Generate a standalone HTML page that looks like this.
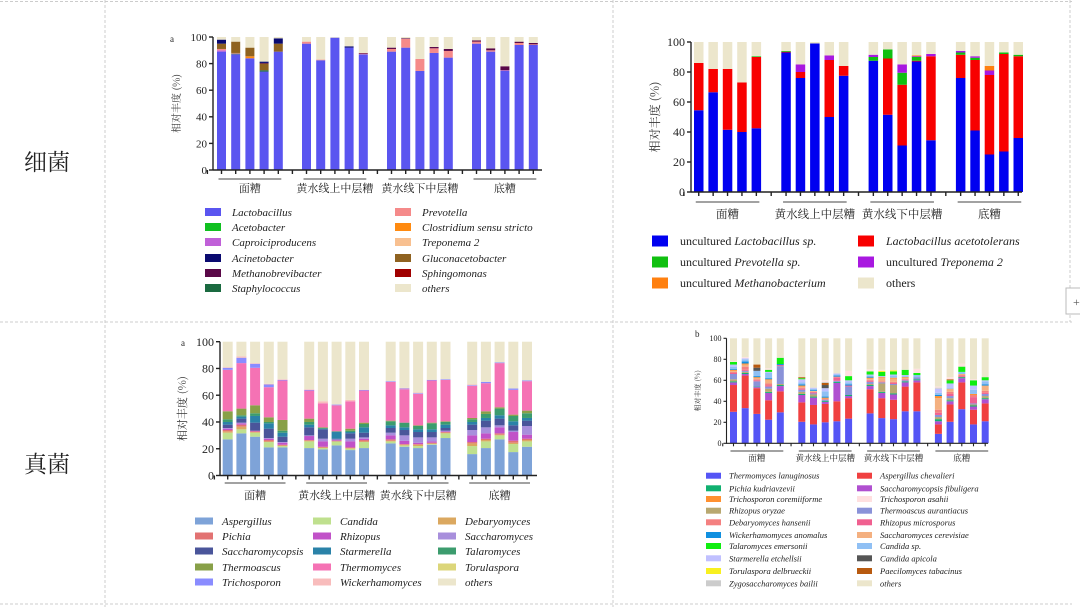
<!DOCTYPE html>
<html><head><meta charset="utf-8"><style>
html,body{margin:0;padding:0;background:#fff;}
svg{display:block;font-family:"Liberation Serif","Noto Serif CJK SC",serif;}
</style></head><body>
<svg id="fig" width="1080" height="607" viewBox="0 0 1080 607" xmlns="http://www.w3.org/2000/svg">
<g stroke="#ccc" stroke-dasharray="3,2" fill="none">
<line x1="0" y1="1.5" x2="1072" y2="1.5"/><line x1="105" y1="0" x2="105" y2="607"/><line x1="613" y1="0" x2="613" y2="607"/>
<line x1="0" y1="322" x2="1072" y2="322"/><line x1="0" y1="604" x2="1072" y2="604"/><line x1="1070" y1="0" x2="1070" y2="322"/>
</g>
<rect x="1066" y="288" width="16" height="26" fill="#fff" stroke="#bbb"/>
<text x="1073" y="306" font-size="12" fill="#555">+</text>
<text x="24" y="170" font-size="23" fill="#222" font-family="'Noto Serif CJK SC',serif">细菌</text>
<text x="24" y="472" font-size="23" fill="#222" font-family="'Noto Serif CJK SC',serif">真菌</text>
</svg>
<script>
const groups=['面糟','黄水线上中层糟','黄水线下中层糟','底糟'];
const yTicks=[0,20,40,60,80,100];

const bacA_series=['Lactobacillus','Staphylococcus','Caproiciproducens','Prevotella','Clostridium sensu stricto','Gluconacetobacter','Methanobrevibacter','Acinetobacter','Acetobacter','Treponema 2','Sphingomonas'];
const bacA_colors=['#5a55f0','#1a6a40','#c060d8','#f58a8a','#ff8a10','#8f6220','#5a0848','#0a0a70','#10c020','#f8c090','#a00000'];
const bacA_values=[
[89,0,1,1,0,4,0,3],[87,0.5,0,0.5,0,8.5,0,0],[84,0,0,0,1.5,6.5,0,0],[74,1,0,0,0,5,0.5,1],[89,0,0,0,0,6,0,4],
[95,0,0,1.5,0,0,0,0],[82.5,0,0,0.5,0,0,0,0],[99.5,0,0,0,0,0,0,0],[92,0,0,0,0,0,0,1],[87,0,0,0.5,0,0,0.5,0],
[89,0,0,2,0,0,1,0],[92,0,0,6.5,0,0,0.5,0],[74.5,0,0,9,0,0,0,0],[88,0,0,3.5,0,0,1,0],[84.5,0,0,5,0,0,1.5,0],
[95,0,0,1.5,0,0,1,0],[89,0,0,1,0,0,1.5,0],[74.5,0,0.5,0,0,0,3,0],[94,0,0,1.5,0,0,1,0],[94,0,0,0.5,0,0,1,0]];

const bacB_series=['uncultured Lactobacillus sp.','Lactobacillus acetotolerans','uncultured Prevotella sp.','uncultured Treponema 2','uncultured Methanobacterium'];
const bacB_colors=['#0000f0','#f80000','#10c010','#a818e0','#ff8010'];
const bacB_values=[
[54.5,31.5,0,0,0],[66.5,15.5,0,0,0],[41.5,40.5,0,0,0],[40,33,0,0,0],[42.5,47.5,0.5,0,0],
[93,0.5,0.5,0,0],[76,4,0,5,0],[99,0,0,0,0],[50,38,0,3,0],[77.5,6.5,0,0,0],
[87.5,0,2.5,1.5,0],[51.5,37.5,6,0,0],[31,40.5,8,5.5,0],[87,0.5,2.5,0.5,0.5],[34.5,56,0,1.5,0],
[76,15.5,1.5,1,0],[41,47,1.5,1,0],[25,53,0,3,3],[27,65,1,0,0],[36,54.5,1,0,0]];

const funC_series=['Aspergillus','Candida','Debaryomyces','Pichia','Rhizopus','Saccharomyces','Saccharomycopsis','Starmerella','Talaromyces','Thermoascus','Thermomyces','Torulaspora','Trichosporon','Wickerhamomyces'];
const funC_colors=['#7ea3d8','#bfe08e','#dba860','#e27272','#c152c8','#a88fdc','#4a559a','#2a82a8','#3c9c6e','#88a048','#f572b4','#dcd67a','#8a8cff','#f8bcbc'];
const funC_values=[
[27,5,1,1,1,0.5,2.5,2,2,6,31,0,1.5,0.5],[31.5,3,2,1.5,1,0.5,3,1.5,1,5,34,0,4,1],[29,3,0.5,0.5,0.5,0,6,5,2,6,28,0,3,0.5],[21,4,0.5,1,1,0.5,7,4,1,3.5,22.5,0,2,0.5],[21,1,0.5,0.5,1.5,0.5,4,3,1.5,8,29.5,0,0.5,0.5],
[20.5,5,0.5,0.5,3,0.5,6,2,2,2.5,21,0,0.5,0.5],[19.5,1,0.5,0.5,4,2,7,0.5,0.5,0.5,18,0,0,1.5],[22.5,3,0,0.5,0.5,0.5,0.5,5,0.5,0,19.5,0,0.5,0],[19,1,0.5,0.5,4.5,2,4,1,1,1.5,20.5,0,0,1],[20.5,4.5,0.5,1,1,1,3.5,4,2.5,1,24,0,0.5,0],
[24,1.5,0.5,1,3,2,3.5,2,3,0.5,29,0,0.5,0],[21.5,1,0.5,0.5,2.5,4,4,2,3.5,0,25,0,0.5,0.5],[20.5,1.5,1,0.5,1,4,4,2,2.5,0.5,23.5,0,0.5,0.5],[23,0.5,0.5,0.5,1,3,4,2,4.5,0.5,31.5,0,0.5,0],[28,3.5,0.5,0.5,0.5,0.5,2,2.5,2,0.5,31,0,0.5,0],
[16,6,2,1,5,4,4,2,2,1,24,0,0.5,0.5],[20.5,5,1,1,4,4.5,5,2,3,2,21,0,1,0],[27,3,0.5,1,4.5,1.5,5,2.5,5,1,33,0,0.5,0],[17.5,6,1,1.5,6.5,1,4,3,4,1,18.5,0,1,0],[21.5,4,1,1,3,6.5,4,2,3.5,2,22,0,0.5,0]];

const funD_series=['Thermomyces lanuginosus','Aspergillus chevalieri','Saccharomycopsis fibuligera','Pichia kudriavzevii','Rhizopus oryzae','Thermoascus aurantiacus','Rhizopus microsporus','Debaryomyces hansenii','Saccharomyces cerevisiae','Trichosporon coremiiforme','Wickerhamomyces anomalus','Candida sp.','Starmerella etchellsii','Talaromyces emersonii','Candida apicola','Paecilomyces tabacinus','Torulaspora delbrueckii','Zygosaccharomyces bailii','Trichosporon asahii'];
const funD_colors=['#5555f5','#f04040','#b050d0','#10b070','#b8a870','#8a92d8','#f06090','#f48080','#f4b080','#ff9030','#1090e0','#90c0f4','#c0c0ff','#10ee10','#555555','#b85a10','#f8f020','#cccccc','#ffe0e0'];
const funD_values=[
[30,25.5,2.5,1,2,5,1,1,1,1,1,2,2,2.5,0,0,0,0,0.5],[33.5,31,1.5,1,1,1,1,3,2,1,2,2,1,0,0,0,0,0,1],[28,24.5,1,0.5,0,5,1,1,1,1,1,5,0,0,3,3,0,0,0],[22.5,18.5,7,1,3,2,1,2,3,1,1,5,1,2,0,0,0,0,1.5],[29.5,20,5,1,1,17,1,0,0,0,1,0,0,6,0,0,0,0,0.5],
[20.5,18.5,7,1,2,2,1,1,1,1,1,2,3,1,0,1,0,0,0],[18,18.5,7,1,2,1,1,0.5,1,0,1,1,1,0,0,0,0,0,0],[20,17.5,2,1,0,1,0,1,0,1,1,5,3,0,3,2,0,1,1.5],[21,19,17.5,1,0,1,3,1,0,0,1,1,1,0,0,0,0,0,0],[23.5,19.5,2,1,0,8,1,0,0,0,1,2,2,4,0,0,0,0,5],
[28.5,23,3,1,1,2,1,1,1,1,1,1,1,3,0,0,0,0,2],[24,19,5,1,8,1,0,1,3,1,0,0,1,4,0,0,1,0,1],[23,18.5,5,1,8,1,1,1,3,1,0,2,1,3,0,0,1,0,0],[30.5,23.5,4,1,0,1,1,0,1,1,0,1,1,5,0,0,0,0,0],[30.5,27.5,2,1,0,2,0,0,0,0,0,2,0,2,0,0,0,0,4],
[9,9,3,2,2,2,2,3,11,2,1,2,4,0,0,0,0,1,1],[20.5,16.5,3,1,2,2,2,2,3,0,0,1,4,3,0,1,0,0,2],[32.5,25.5,4,1,0,0,1,1,1,0,0,2,0,5,0,0,0,0,3],[18,14,3,1,1,1,6,2,0,1,0,4,4,5,0,0,0,0,1],[21,17,4,1,2,2,1,2,5,0,1,3,1,3,0,0,0,0,0]];

const OTHERS='#ece6cc';
const NS='http://www.w3.org/2000/svg';
const fig=document.getElementById('fig');
function mk(tag,attrs,parent,txt){const e=document.createElementNS(NS,tag);for(const k in attrs)e.setAttribute(k,attrs[k]);if(txt!==undefined)e.textContent=txt;(parent||fig).appendChild(e);return e;}

function chart(id,o,colors,vals){
  const g=mk('g',{});
  
  
  const y=v=>o.y0-v*(o.y0-o.y100)/100;
  const bx=i=>o.bx+Math.floor(i/5)*o.go+(i%5)*o.st;
  vals.forEach((row,i)=>{
    let cum=0;
    const list=colors.map((c,k)=>[row[k]||0,c]);
    const sum=list.reduce((a,b)=>a+b[0],0);
    list.push([Math.max(0,100-sum),OTHERS]);
    list.forEach(([v,c])=>{
      if(v<=0)return;
      const r=mk('rect',{x:bx(i),y:y(cum+v),width:o.bw,height:y(cum)-y(cum+v),fill:c},g);
      
      
      cum+=v;
    });
  });
  const ax=mk('g',{stroke:'#222','stroke-width':o.sw||1.4},g);
  
  
  mk('line',{x1:o.ax,y1:o.y0+0.5,x2:o.ax,y2:o.y100},ax);
  mk('line',{x1:o.ax,y1:o.y0,x2:o.ae,y2:o.y0},ax);
  yTicks.forEach(t=>{
    mk('line',{x1:o.ax-o.tk,y1:y(t),x2:o.ax,y2:y(t)},ax);
    const tx=mk('text',{x:o.ax-o.tk-2,y:y(t)+o.fs*0.35,'font-size':o.fs,'text-anchor':'end',fill:'#222',stroke:'none'},g,String(t));
    
    
  });
  for(let i=0;i<20;i++){mk('line',{x1:bx(i)+o.bw/2,y1:o.y0,x2:bx(i)+o.bw/2,y2:o.y0+o.tk},ax);}
  for(let gI=0;gI<4;gI++){
    const gx=bx(gI*5)-(o.go-4*o.st-o.bw)/2;
    mk('line',{x1:gx,y1:o.y0,x2:gx,y2:o.y0+o.tk},ax);
    const x1=bx(gI*5)+o.bw/2,x2=bx(gI*5+4)+o.bw/2;
    mk('line',{x1:x1-3,y1:o.ul,x2:x2+3,y2:o.ul,'stroke-width':1,stroke:'#444'},ax);
    const t=mk('text',{x:(x1+x2)/2,y:o.ly,'font-size':o.gfs,'text-anchor':'middle',fill:'#222',stroke:'none','font-family':"'Noto Serif CJK SC',serif"},g,groups[gI]);
    
    
  }
  const yt=mk('text',{transform:`translate(${o.ytx},${(o.y0+o.y100)/2}) rotate(-90)`,'font-size':o.yfs,'text-anchor':'middle',fill:'#333','font-family':"'Noto Serif CJK SC',serif"},g,'相对丰度 (%)');
  
  
  if(o.letter){const l=mk('text',{x:o.letter[0],y:o.letter[1],'font-size':9,fill:'#222'},g,o.letter[2]);
    
    }
}

function legend(id,names,colors,o){
  const g=mk('g',{});
  
  
  const all=names.map((n,k)=>[n,colors[k]]);
  all.push(['others',OTHERS]);
  o.order.forEach((idx,pos)=>{
    const item=all[idx];
    if(!item)return;
    const [n,c]=item;
    const col=Math.floor(pos/o.rows),row=pos%o.rows;
    const x=o.cx[col],yy=o.ry[row];
    const e=mk('g',{},g);
    
    
    mk('rect',{x:x,y:yy-o.sh/2,width:o.sw,height:o.sh,fill:c},e);
    const t=mk('text',{x:x+o.tx,y:yy+o.fs*0.35,'font-size':o.fs,fill:'#222'},e);
    if(o.uncult&&n.startsWith('uncultured ')){
      mk('tspan',{},t,'uncultured ');
      mk('tspan',{'font-style':'italic'},t,n.slice(11));
    }else{
      if(n!=='others'||o.othersItalic)t.setAttribute('font-style','italic');
      t.textContent=n;
    }
  });
}

chart('bacteria-genus-chart',{ax:213,ae:542,y0:170,y100:37,bx:217,bw:9,st:14.2,go:85,tk:4,fs:11,gfs:11,ul:179,ly:192,ytx:180,yfs:10,letter:[170,42,'a']},bacA_colors,bacA_values);
chart('bacteria-species-chart',{ax:691,ae:1022,y0:192,y100:42,bx:694,bw:9.5,st:14.4,go:87.3,tk:4,fs:12,gfs:11.5,ul:202,ly:218,ytx:659,yfs:12},bacB_colors,bacB_values);
chart('fungi-genus-chart',{ax:220,ae:537,y0:475.5,y100:341.7,bx:222.7,bw:10,st:13.7,go:81.5,tk:4,fs:12,gfs:11,ul:483,ly:499,ytx:186,yfs:11,letter:[181,346,'a']},funC_colors,funC_values);
chart('fungi-species-chart',{ax:726.5,ae:988,y0:443.3,y100:338.3,bx:730,bw:7,st:11.7,go:68.3,tk:3,fs:8,gfs:8.5,ul:451,ly:461,ytx:700,yfs:7,sw:1.1,letter:[695,337,'b']},funD_colors,funD_values);

legend('bacteria-genus-legend',bacA_series,bacA_colors,{rows:6,cx:[205,395],ry:[212,227,242,258,273,288],sw:16,sh:8,tx:27,fs:11,othersItalic:true,
  order:[0,8,2,7,6,1, 3,4,9,5,10,11]});
legend('bacteria-species-legend',bacB_series,bacB_colors,{rows:3,cx:[652,858],ry:[241,262,283],sw:16,sh:11,tx:28,fs:12,uncult:true,order:[0,2,4,1,3,5]});
legend('fungi-genus-legend',funC_series,funC_colors,{rows:5,cx:[195,313,438],ry:[521,536,551,567,582],sw:18,sh:7,tx:27,fs:11,othersItalic:true,
  order:[0,3,6,9,12, 1,4,7,10,13, 2,5,8,11,14]});
legend('fungi-species-legend',funD_series,funD_colors,{rows:10,cx:[706,857],ry:[475.7,488.3,499,510.7,522.3,535,546,558.3,571,583.3],sw:15,sh:6,tx:23,fs:8.5,othersItalic:true,
  order:[0,3,9,4,7,10,13,12,16,17, 1,2,18,5,6,8,11,14,15,19]});
</script>
</body></html>
